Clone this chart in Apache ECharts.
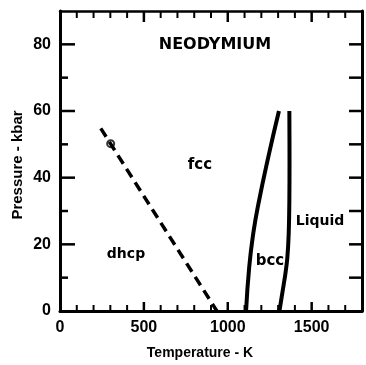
<!DOCTYPE html>
<html>
<head>
<meta charset="utf-8">
<script src="https://cdn.jsdelivr.net/npm/echarts@6/dist/echarts.min.js"></script>
<style>
  html, body { margin: 0; padding: 0; background: #fff; }
  #chart { width: 366px; height: 365px; }
</style>
</head>
<body>
<div id="chart"></div>
<script>
// dhcp / fcc boundary (dashed), temperature K, pressure kbar
var dhcpFccT = [243, 935];
var dhcpFccP = [54.8, 0];
// small open circle on the dashed line
var markerT = [302];
var markerP = [50.2];
// fcc / bcc boundary
var fccBccT = [1109, 1128, 1152, 1182, 1242, 1305];
var fccBccP = [0, 13.3, 23.3, 32, 46.3, 60];
// melting curve bcc / liquid
var meltT = [1308, 1327, 1343, 1355, 1363, 1367, 1368, 1367];
var meltP = [0, 6, 11, 16, 23, 33, 45, 60];

var xTickLabels = [0, 500, 1000, 1500];
var yTickLabels = [0, 20, 40, 60, 80];
// tick positions drawn on the frame
var xTicks = [100, 200, 300, 400, 500, 600, 700, 800, 900, 1000, 1100, 1200, 1300, 1400, 1500, 1600, 1700];
var yTicks = [10, 20, 30, 40, 50, 60, 70, 80];

var xMin = 0, xMax = 1800, yMin = 0, yMax = 90;

function pairs(xs, ys) {
    var out = [];
    for (var i = 0; i < xs.length; i++) out.push([xs[i], ys[i]]);
    return out;
}

var chart = echarts.init(document.getElementById('chart'));
var font = 'Liberation Sans';

function tickLine(x1, y1, x2, y2, w) {
    return { type: 'line', shape: { x1: x1, y1: y1, x2: x2, y2: y2 }, style: { stroke: '#000', lineWidth: w } };
}

// short marks along bottom and top edges
function renderXTicks(params, api) {
    var v = api.value(0);
    var major = v % 500 === 0;
    var b = api.coord([v, yMin]);
    var t = api.coord([v, yMax]);
    return {
        type: 'group',
        children: [
            tickLine(b[0], b[1], b[0], b[1] - (major ? 9 : 6), major ? 2.5 : 2),
            tickLine(t[0], t[1], t[0], t[1] + (major ? 11 : 7), major ? 2.5 : 2)
        ]
    };
}

// short marks along left and right edges
function renderYTicks(params, api) {
    var v = api.value(1);
    var major = v % 20 === 0;
    var l = api.coord([xMin, v]);
    var r = api.coord([xMax, v]);
    return {
        type: 'group',
        children: [
            tickLine(l[0], l[1], l[0] + (major ? 15 : 8), l[1], 2.5),
            tickLine(r[0], r[1], r[0] - 13, r[1], 2.5)
        ]
    };
}

option = {
    animation: false,
    grid: { left: 60, top: 11, right: 4, bottom: 54 },
    xAxis: [
        {
            type: 'value', position: 'bottom', min: xMin, max: xMax, interval: 100,
            splitLine: { show: false },
            axisLine: { show: true, onZero: false, lineStyle: { color: '#000', width: 3 } },
            axisTick: { show: false },
            axisLabel: {
                margin: 9, color: '#000', fontFamily: font, fontWeight: 'bold', fontSize: 16,
                formatter: function (v) { return xTickLabels.indexOf(v) >= 0 ? String(v) : ''; }
            }
        },
        {
            type: 'value', position: 'top', min: xMin, max: xMax, interval: 100,
            splitLine: { show: false },
            axisLine: { show: true, onZero: false, lineStyle: { color: '#000', width: 2.5 } },
            axisTick: { show: false },
            axisLabel: { show: false }
        }
    ],
    yAxis: [
        {
            type: 'value', position: 'left', min: yMin, max: yMax, interval: 10,
            splitLine: { show: false },
            axisLine: { show: true, onZero: false, lineStyle: { color: '#000', width: 3 } },
            axisTick: { show: false },
            axisLabel: {
                margin: 9, color: '#000', fontFamily: font, fontWeight: 'bold', fontSize: 16,
                formatter: function (v) { return yTickLabels.indexOf(v) >= 0 ? String(v) : ''; }
            }
        },
        {
            type: 'value', position: 'right', min: yMin, max: yMax, interval: 10,
            splitLine: { show: false },
            axisLine: { show: true, onZero: false, lineStyle: { color: '#000', width: 3 } },
            axisTick: { show: false },
            axisLabel: { show: false }
        }
    ],
    series: [
        {
            type: 'custom', name: 'xTicks', renderItem: renderXTicks, clip: false, z: 5, silent: true,
            encode: { x: 0, y: 1 },
            data: xTicks.map(function (v) { return [v, yMin]; })
        },
        {
            type: 'custom', name: 'yTicks', renderItem: renderYTicks, clip: false, z: 5, silent: true,
            encode: { x: 0, y: 1 },
            data: yTicks.map(function (v) { return [xMin, v]; })
        },
        {
            type: 'line', data: pairs(dhcpFccT, dhcpFccP), symbol: 'none',
            lineStyle: { color: '#000', width: 3.5, type: [10, 6] }
        },
        {
            type: 'scatter', data: pairs(markerT, markerP), symbol: 'circle', symbolSize: 7,
            itemStyle: { color: '#fff', borderColor: '#000', borderWidth: 2 }
        },
        {
            type: 'line', data: pairs(fccBccT, fccBccP), symbol: 'none', smooth: 0.5,
            lineStyle: { color: '#000', width: 4 }
        },
        {
            type: 'line', data: pairs(meltT, meltP), symbol: 'none', smooth: 0.3,
            lineStyle: { color: '#000', width: 4 }
        }
    ],
    graphic: [
        { type: 'text', x: 215, y: 45, style: { text: 'NEODYMIUM', font: 'bold 16px DejaVu Sans', fill: '#000', align: 'center', verticalAlign: 'middle' } },
        { type: 'text', x: 200, y: 165, style: { text: 'fcc', font: 'bold 15px DejaVu Sans', fill: '#000', align: 'center', verticalAlign: 'middle' } },
        { type: 'text', x: 126, y: 254, style: { text: 'dhcp', font: 'bold 14px DejaVu Sans', fill: '#000', align: 'center', verticalAlign: 'middle' } },
        { type: 'text', x: 270, y: 261, style: { text: 'bcc', font: 'bold 15px DejaVu Sans', fill: '#000', align: 'center', verticalAlign: 'middle' } },
        { type: 'text', x: 320, y: 221, style: { text: 'Liquid', font: 'bold 14px DejaVu Sans', fill: '#000', align: 'center', verticalAlign: 'middle' } },
        { type: 'text', x: 200, y: 353, style: { text: 'Temperature - K', font: 'bold 14px Liberation Sans', fill: '#000', align: 'center', verticalAlign: 'middle' } },
        { type: 'text', x: 18, y: 165, rotation: Math.PI / 2, style: { text: 'Pressure - kbar', font: 'bold 15px Liberation Sans', fill: '#000', align: 'center', verticalAlign: 'middle' } }
    ]
};
chart.setOption(option);
</script>
</body>
</html>
